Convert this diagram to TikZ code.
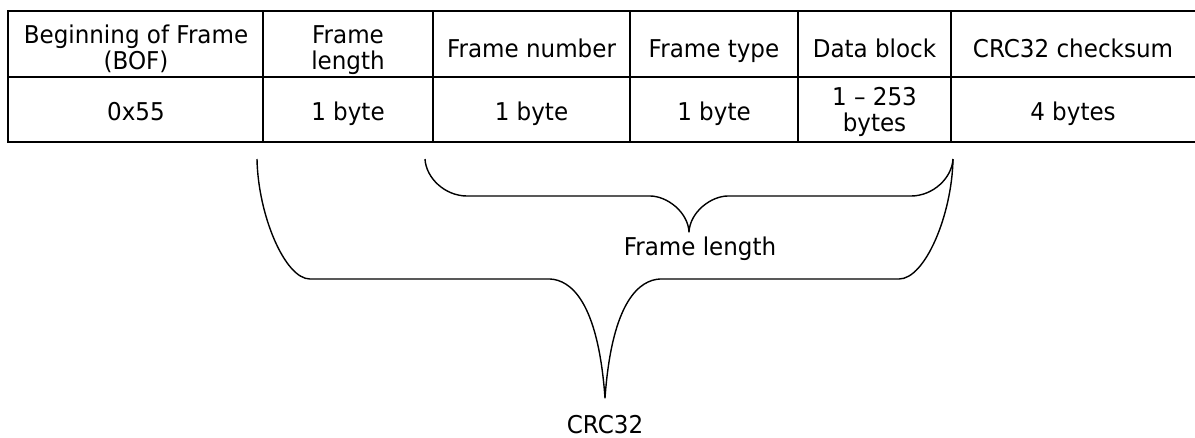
\documentclass[tikz,border=0pt]{standalone}
\usepackage{fontspec}
\setmainfont{DejaVu Sans}[FakeStretch=0.94]
\begin{document}
\begin{tikzpicture}[x=1pt,y=-1pt,
  grid/.style={line width=2pt},
  brace/.style={line width=1.4pt, line join=round},
  lbl/.style={anchor=base, inner sep=0pt, font=\fontsize{24.5}{27}\selectfont}]
\useasboundingbox (0,0) rectangle (1195,437);

% frame layout table
\draw[grid] (8,11) rectangle (1198,142);
\draw[grid] (8,77) -- (1198,77);
\foreach \x in {263,433,630,798,951} \draw[grid] (\x,11) -- (\x,142);

% header row
\node[lbl] (bof1) at (136,43) {Beginning of Frame};
\node[lbl] (bof2) at (136,69) {(BOF)};
\node[lbl] (len1) at (348,43) {Frame};
\node[lbl] (len2) at (348,69) {length};
\node[lbl] (num)  at (531.5,57) {Frame number};
\node[lbl] (typ)  at (714,57) {Frame type};
\node[lbl] (dat)  at (874.5,57) {Data block};
\node[lbl] (crc)  at (1073,57) {CRC32 checksum};

% size row
\node[lbl] (v1)  at (136,120.5) {0x55};
\node[lbl] (v2)  at (348,120.5) {1 byte};
\node[lbl] (v3)  at (531.5,120.5) {1 byte};
\node[lbl] (v4)  at (714,120.5) {1 byte};
\node[lbl] (v5a) at (874.5,105) {1 – 253};
\node[lbl] (v5b) at (874.5,131) {bytes};
\node[lbl] (v6)  at (1073,120.5) {4 bytes};

% brace end points
\coordinate (oL) at (257,159);
\coordinate (oR) at (953,159);
\coordinate (oT) at (605,398);
\coordinate (iL) at (425,159);
\coordinate (iT) at (689,232);

% brace over the bytes counted by the frame length
\draw[brace] (iL) .. controls (426,178) and (445,196) .. (467,196)
  -- (650,196) .. controls (667,196) and (688,212) .. (iT)
  .. controls (690,212) and (711,196) .. (728,196)
  -- (911,196) .. controls (933,196) and (952,178) .. (oR);

% brace over the bytes covered by the checksum
\draw[brace] (oL) .. controls (258,215) and (285,279) .. (310,279)
  -- (550,279) .. controls (570,280) and (598,300) .. (oT)
  .. controls (612,300) and (640,280) .. (660,279)
  -- (899,279) .. controls (925,279) and (952,215) .. (oR);

% labels
\node[lbl] (flen)  at (700,255) {Frame length};
\node[lbl] (crc32) at (605,433) {CRC32};
\end{tikzpicture}
\end{document}
